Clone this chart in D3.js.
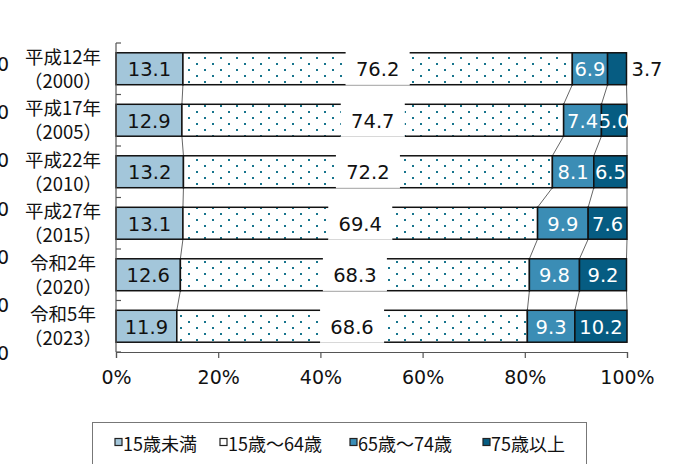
<!DOCTYPE html>
<html>
<head>
<meta charset="utf-8">
<script src="https://cdn.jsdelivr.net/npm/d3@7"></script>
<style>
  html, body { margin: 0; padding: 0; background: #fff; }
  svg { display: block; }
</style>
</head>
<body>
<svg id="chart" width="679" height="464"></svg>
<script>
// Age composition by survey year (percent)
const yearLines = [
  ["平成12年", "（2000）"],
  ["平成17年", "（2005）"],
  ["平成22年", "（2010）"],
  ["平成27年", "（2015）"],
  ["令和2年", "（2020）"],
  ["令和5年", "（2023）"]
];
const seriesNames = ["15歳未満", "15歳～64歳", "65歳～74歳", "75歳以上"];
const under15   = [13.1, 12.9, 13.2, 13.1, 12.6, 11.9];
const age15to64 = [76.2, 74.7, 72.2, 69.4, 68.3, 68.6];
const age65to74 = [6.9, 7.4, 8.1, 9.9, 9.8, 9.3];
const age75plus = [3.7, 5.0, 6.5, 7.6, 9.2, 10.2];
const xTicks = [0, 20, 40, 60, 80, 100];
const sideTicks = [0, 20, 40, 60, 80, 100, 120];

const series = [under15, age15to64, age65to74, age75plus];
const fills = ["#a3c6da", "url(#dots)", "#3b8db5", "#065c82"];
const legendFills = ["#a3c6da", "#ffffff", "#3b8db5", "#065c82"];

const svg = d3.select("#chart");
const latin = "'DejaVu Sans', Verdana, sans-serif";
const cjk = "'Noto Sans CJK JP', 'Noto Sans', sans-serif";

// Dotted fill for the working-age segment
const defs = svg.append("defs");
const pat = defs.append("pattern")
  .attr("id", "dots").attr("patternUnits", "userSpaceOnUse")
  .attr("width", 16).attr("height", 12).attr("x", 0).attr("y", 1);
pat.append("rect").attr("width", 16).attr("height", 12).attr("fill", "#fff");
pat.append("rect").attr("x", 4).attr("y", 2).attr("width", 2).attr("height", 2).attr("fill", "#17758d");
pat.append("rect").attr("x", 12).attr("y", 8).attr("width", 2).attr("height", 2).attr("fill", "#17758d");

const x = d3.scaleLinear().domain([0, 100]).range([116, 627]);
const y = d3.scaleBand()
  .domain(d3.range(yearLines.length))
  .range([43, 352])
  .paddingInner(0.38)
  .paddingOuter(0.19);

// Rows of stacked segments
const rows = yearLines.map((_, i) => {
  let acc = 0;
  return series.map((s, k) => {
    const seg = { row: i, k, v: s[i], x0: acc, x1: acc + s[i] };
    acc += s[i];
    return seg;
  });
});

// Left secondary tick labels (mostly outside the visible area)
const ySide = d3.scaleLinear().domain([0, 120]).range([353, 64]);
svg.append("g").selectAll("text").data(sideTicks).join("text")
  .attr("x", 9).attr("y", d => ySide(d))
  .attr("text-anchor", "end").attr("dominant-baseline", "central")
  .attr("font-family", latin).attr("font-size", 19).attr("fill", "#111")
  .text(d => d);

// Connector lines between consecutive bars
const conn = svg.append("g").attr("stroke", "#666").attr("stroke-width", 1).attr("fill", "none");
for (let i = 0; i < rows.length - 1; i++) {
  for (let k = 0; k < 4; k++) {
    conn.append("line")
      .attr("x1", x(rows[i][k].x1)).attr("y1", y(i) + y.bandwidth())
      .attr("x2", x(rows[i + 1][k].x1)).attr("y2", y(i + 1));
  }
}

// Bars
const barG = svg.append("g");
rows.forEach(r => {
  barG.selectAll(null).data(r).join("rect")
    .attr("x", d => x(d.x0)).attr("y", d => y(d.row))
    .attr("width", d => x(d.x1) - x(d.x0)).attr("height", y.bandwidth())
    .attr("fill", d => fills[d.k])
    .attr("stroke", "#111").attr("stroke-width", 1.5);
});

// Axes
const axisColor = "#555";
const yAxis = svg.append("g").attr("stroke", axisColor).attr("stroke-width", 1.2);
yAxis.append("line").attr("x1", 116).attr("x2", 116).attr("y1", 43).attr("y2", 352);
d3.range(yearLines.length + 1).forEach(i => {
  const yy = 43 + i * y.step();
  yAxis.append("line").attr("x1", 116).attr("x2", 121).attr("y1", yy).attr("y2", yy);
});

const xAxis = svg.append("g").attr("transform", "translate(0,352)")
  .call(d3.axisBottom(x).tickValues(xTicks).tickFormat(d => d + "%").tickSize(6).tickPadding(13));
xAxis.select(".domain").attr("stroke", axisColor).attr("stroke-width", 1.2);
xAxis.selectAll(".tick line").attr("stroke", axisColor).attr("stroke-width", 1.2);
xAxis.selectAll(".tick text").attr("font-family", latin).attr("font-size", 19).attr("fill", "#111");

// Category labels
const catG = svg.append("g");
yearLines.forEach((lines, i) => {
  const cy = y(i) + y.bandwidth() / 2;
  catG.append("text").attr("x", 63).attr("y", cy - 13)
    .attr("text-anchor", "middle").attr("dominant-baseline", "central")
    .attr("font-family", cjk).attr("font-size", 18.5).attr("fill", "#111").text(lines[0]);
  catG.append("text").attr("x", 63).attr("y", cy + 11)
    .attr("text-anchor", "middle").attr("dominant-baseline", "central")
    .attr("font-family", cjk).attr("font-size", 18.5).attr("fill", "#111").text(lines[1]);
});

// Value labels
const labG = svg.append("g");
rows.forEach(r => {
  r.forEach(d => {
    const cy = y(d.row) + y.bandwidth() / 2;
    let cx = x((d.x0 + d.x1) / 2), anchor = "middle", color = "#111";
    if (d.k === 1) {
      const bw = 64;
      labG.append("rect").attr("x", cx - bw / 2).attr("y", y(d.row) - 2)
        .attr("width", bw).attr("height", y.bandwidth() + 2.3).attr("fill", "#fff");
      labG.append("line").attr("x1", cx - bw / 2).attr("x2", cx + bw / 2)
        .attr("y1", y(d.row) + y.bandwidth() + 0.3).attr("y2", y(d.row) + y.bandwidth() + 0.3)
        .attr("stroke", "#d8d8d8").attr("stroke-width", 1);
    }
    if (d.k >= 2) color = "#fff";
    if (d.k === 3 && d.v < 4) { cx = x(d.x1) + 5; anchor = "start"; color = "#111"; }
    labG.append("text").attr("x", cx).attr("y", cy + 1)
      .attr("text-anchor", anchor).attr("dominant-baseline", "central")
      .attr("font-family", latin).attr("font-size", 19.5).attr("fill", color)
      .text(d.v.toFixed(1));
  });
});

// Legend
const lg = svg.append("g");
lg.append("rect").attr("x", 92.5).attr("y", 422.5).attr("width", 494).attr("height", 50)
  .attr("fill", "#fff").attr("stroke", "#777").attr("stroke-width", 1);
const legendX = [115, 220, 350, 483];
seriesNames.forEach((name, k) => {
  lg.append("rect").attr("x", legendX[k]).attr("y", 438.5).attr("width", 7).attr("height", 7)
    .attr("fill", legendFills[k]).attr("stroke", "#222").attr("stroke-width", 1.2);
  lg.append("text").attr("x", legendX[k] + 8).attr("y", 442.5)
    .attr("dominant-baseline", "central")
    .attr("font-family", cjk).attr("font-size", 18).attr("fill", "#111").text(name);
});
</script>
</body>
</html>
